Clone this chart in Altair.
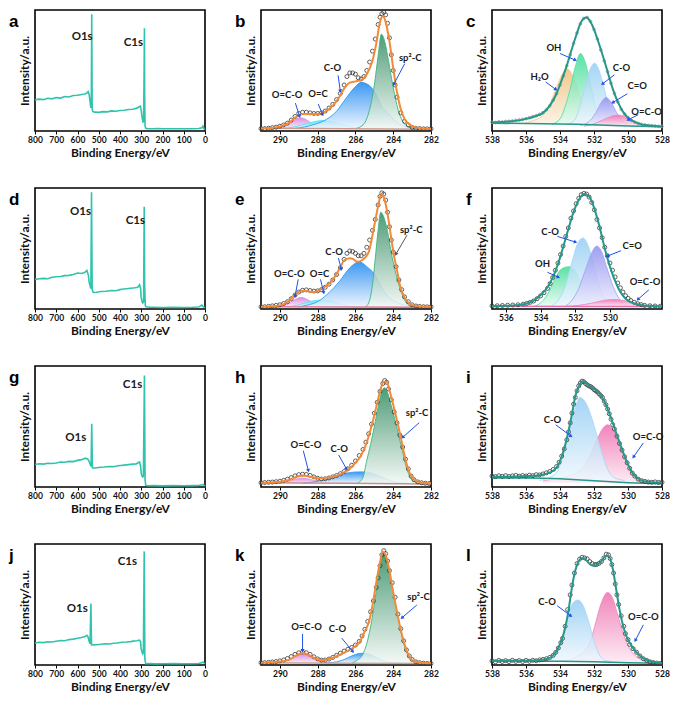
import math
import altair as alt
import pandas as pd

W, H = 170, 121
FONT = "Lato"

# ---------------- survey spectra: (binding energy eV, intensity in % of panel height)
SURVEY_A = [(800,25.7),(780,26.3),(760,25.9),(740,27.0),(720,26.6),(700,27.6),(680,27.2),(660,28.5),(640,28.1),(620,29.3),(600,29.5),(580,30.2),(565,30.6),(555,31.5),(550,32.5),(545,30),(540,23),(537,19),(535,22),(533,96.5),(531,18),(528,16.2),(520,15.6),(500,15.4),(480,16.0),(460,15.8),(440,16.6),(420,16.3),(400,16.9),(380,17.1),(360,17.8),(340,18.0),(320,18.9),(310,20.0),(304,20.5),(300,17),(296,11),(292,7.5),(289,8),(287,40),(285,85),(284,30),(282,4),(279,2.2),(270,2.0),(250,1.9),(220,2.0),(200,1.8),(150,1.9),(100,1.8),(60,1.9),(30,2.1),(15,2.6),(10,4.0),(6,2.0),(0,1.2)]
SURVEY_D = [(800,24.5),(780,25.0),(760,25.3),(740,25.0),(720,26.2),(700,26.6),(680,26.9),(660,27.6),(640,27.8),(620,28.5),(600,29.7),(580,29.4),(565,30.3),(556,31.8),(549,28),(545,22),(541,19.4),(537,17),(534,96.4),(531,16),(526,13.7),(510,13.9),(490,14.5),(466,14.7),(440,15.3),(420,15.1),(400,16.0),(391,16.3),(370,16.8),(350,17.2),(330,17.6),(316,18),(308,20),(303,17),(301,10),(296,6),(293,5),(289,6),(286,84.5),(284,20),(281,3),(278,1.8),(260,1.5),(240,1.4),(200,1.3),(150,1.4),(100,1.3),(60,1.4),(30,1.6),(15,3.2),(8,1.8),(0,1.0)]
SURVEY_G = [(800,18.6),(780,19.2),(760,18.9),(740,19.6),(720,19.4),(700,19.9),(680,20.6),(660,20.4),(640,21.2),(620,21.0),(600,22.0),(580,22.6),(563,23.8),(551,23),(545,21),(540,18.6),(536,17),(533,52.2),(530,16),(527,15.5),(510,15.9),(490,16.3),(473,16.5),(450,17.0),(430,16.8),(410,17.6),(398,17.8),(380,18.1),(360,18.5),(340,18.9),(323,19),(315,20),(308,20.7),(303,17),(300,11),(296,9),(293,8.3),(290,9),(285,92.2),(282,6),(279,1.5),(270,1.0),(240,1.1),(200,0.9),(150,1.1),(100,1.0),(60,1.1),(30,1.2),(10,2.0),(4,1.3),(0,0.8)]
SURVEY_J = [(800,18.2),(780,18.8),(760,18.5),(740,19.2),(720,19.0),(700,19.7),(680,20.3),(660,20.1),(640,21.0),(620,21.4),(600,22.1),(580,22.8),(565,23.6),(556,24.6),(550,23),(546,20),(541,17.5),(537,50.9),(534,16.5),(531,16.5),(510,16.8),(489,17.2),(470,17.6),(450,17.4),(430,18.0),(414,18.2),(390,18.8),(370,19.0),(350,19.3),(338,19.7),(320,20.1),(308,20.6),(303,19),(301,14),(297,11),(293,9.1),(290,10),(286,93.9),(283,5),(279,1.0),(260,1.1),(230,0.9),(200,1.0),(150,1.1),(100,1.0),(60,1.0),(30,1.2),(8,2.3),(3,1.3),(0,0.9)]
SURVEY_TICKS = [800, 700, 600, 500, 400, 300, 200, 100, 0]
LABELS_A = [("O1s", 578, 78), ("C1s", 337, 73)]
LABELS_D = [("O1s", 586, 80), ("C1s", 328, 73)]
LABELS_G = [("O1s", 608, 40.6), ("C1s", 341, 84.5)]
LABELS_J = [("O1s", 601, 46), ("C1s", 365, 85)]

# ---------------- C1s panels
C1S_TICKS = [290, 288, 286, 284, 282]
B_DATA = [(291.0,2),(290.8,2),(290.6,2.3),(290.4,2.8),(290.2,3.2),(290.0,4),(289.8,5),(289.6,6.5),(289.4,9),(289.2,12),(289.0,14.5),(288.8,15.5),(288.6,15.5),(288.4,15),(288.2,14.5),(288.0,14.5),(287.8,15),(287.6,16.5),(287.4,19),(287.2,22),(287.0,26),(286.8,31),(286.6,38),(286.45,45),(286.3,48),(286.15,48),(286.0,47),(285.85,44),(285.7,43),(285.55,45),(285.4,50),(285.25,57),(285.1,66),(284.95,76),(284.8,88),(284.7,94),(284.6,97),(284.5,98),(284.4,96),(284.3,89),(284.2,77),(284.1,63),(284.0,50),(283.9,38),(283.8,28),(283.6,15),(283.4,8),(283.2,5),(283.0,3),(282.8,2.2),(282.6,2),(282.4,1.8),(282.2,1.8),(282.0,1.8)]
B_FIT = [(291.0,2),(290.5,2.5),(290.0,3.8),(289.5,7),(289.1,12),(288.8,14),(288.4,14),(288.0,14),(287.6,16),(287.2,21),(286.9,27),(286.6,35),(286.3,40),(286.0,41),(285.7,42),(285.4,47),(285.1,58),(284.9,72),(284.7,90),(284.55,95),(284.4,90),(284.2,74),(284.0,52),(283.8,32),(283.6,18),(283.4,10),(283.1,5),(282.8,3),(282.4,2),(282.0,1.8)]
B_OCO = [(290.3,2),(290.0,2.8),(289.7,4.5),(289.4,7.2),(289.15,9.8),(288.9,10.9),(288.65,9.8),(288.4,7.2),(288.1,4.5),(287.8,2.8),(287.5,2)]
B_OC = [(289.8,2),(289.3,3.2),(288.8,5.2),(288.3,7.3),(287.9,8.5),(287.65,8.7),(287.3,8),(286.9,6.2),(286.5,4.2),(286.0,2.7),(285.5,2)]
B_CO = [(289.2,2.2),(288.7,3.3),(288.2,5.4),(287.7,8.2),(287.0,16.3),(286.5,27),(286.0,36.7),(285.7,40.2),(285.3,38),(284.9,30),(284.6,20),(284.2,13.6),(283.9,8.2),(283.4,4),(282.8,2.2),(282.4,2)]
B_SP2 = [(286.0,2),(285.6,5),(285.3,15),(285.0,38),(284.8,62),(284.63,80),(284.45,74),(284.25,58),(284.0,36),(283.75,18),(283.5,8),(283.2,3.5),(282.8,2)]
B_BASE = [(291.0,2.2),(286.5,1.9),(282.0,1.4)]
B_LABELS = [("O=C-O",289.62,30),("O=C",287.98,30.4),("C-O",287.22,52),("sp²-C",283.1,60)]
B_ARROWS = [(289.18,23,288.96,12.2),(287.97,22.3,287.74,13.6),(286.92,46,286.8,33),(283.39,55.7,283.97,38.6)]

E_DATA = [(291.0,1.8),(290.8,1.9),(290.6,2.2),(290.4,2.6),(290.2,3.0),(290.0,3.5),(289.8,4.5),(289.6,6),(289.4,8.5),(289.2,11.5),(289.0,14),(288.8,15.5),(288.6,15.8),(288.4,15.3),(288.2,14.8),(288.0,15),(287.8,16),(287.6,18),(287.4,20.5),(287.2,24),(287.0,28.5),(286.8,34),(286.6,41),(286.45,46),(286.3,48),(286.15,47.5),(286.0,46),(285.85,44),(285.7,44),(285.55,46),(285.4,51),(285.25,57),(285.1,65),(284.95,74),(284.8,86),(284.7,93),(284.6,96),(284.5,95),(284.4,90),(284.3,80),(284.2,68),(284.1,57),(284.0,47),(283.85,35),(283.7,24),(283.55,16),(283.4,10),(283.2,6),(283.0,3.5),(282.8,2.5),(282.6,2.1),(282.4,1.9),(282.2,1.8),(282.0,1.8)]
E_FIT = [(291.0,1.8),(290.5,2.2),(290.0,3),(289.5,7),(289.2,12),(288.7,15),(288.2,14),(287.7,17.4),(287.2,24),(286.85,33),(286.6,40),(286.3,42),(286.1,41),(285.9,39),(285.6,41),(285.3,47),(285.0,69),(284.8,85),(284.63,95),(284.45,90),(284.3,78.6),(284.1,58),(283.97,44.8),(283.8,32),(283.63,18.75),(283.45,11),(283.3,7),(283.1,4),(282.95,3),(282.5,2),(282.0,1.8)]
E_OCO = [(290.1,1.6),(289.7,3.5),(289.35,6.5),(288.86,9.6),(288.4,6.5),(288.05,3.5),(287.6,1.6)]
E_OC = [(289.6,1.6),(289.1,3),(288.6,5.5),(288.15,7),(287.76,7.5),(287.35,7),(286.95,5),(286.55,3),(286.1,1.8),(285.7,1.6)]
E_CO = [(289.0,1.8),(288.6,3),(287.9,7),(287.4,13.5),(286.85,22.7),(286.3,34),(285.8,39),(285.4,35),(285.0,29),(284.5,14.8),(284.0,7),(283.3,3),(282.7,1.8)]
E_SP2 = [(285.5,1.6),(285.3,5),(285.1,20),(284.95,42),(284.8,65),(284.66,80),(284.5,76),(284.3,64),(284.1,46),(283.9,32),(283.7,20),(283.5,11),(283.3,5),(283.0,2),(282.7,1.6)]
E_BASE = [(291.0,1.8),(286.5,1.7),(282.0,1.5)]
E_LABELS = [("O=C-O",289.5,29),("O=C",287.9,29),("C-O",287.13,46.9),("sp²-C",283.05,65.6)]
E_ARROWS = [(289.03,24.5,289.2,10.4),(287.85,24.5,287.68,13.5),(286.9,42,286.75,33)]
E_ARROWS_GREY = [(283.27,61,283.86,45.3)]

H_DATA = [(291.0,3.6),(290.8,3.7),(290.6,3.9),(290.4,4.1),(290.2,4.4),(290.0,4.8),(289.8,5.5),(289.6,6.5),(289.4,7.8),(289.2,9.2),(289.0,10.2),(288.8,10.6),(288.6,10.4),(288.4,9.6),(288.2,8.4),(288.0,7.2),(287.8,6.6),(287.6,6.8),(287.4,7.5),(287.2,8.4),(287.0,9.5),(286.8,11),(286.6,12.8),(286.4,15),(286.2,18),(286.0,21.5),(285.8,26),(285.6,31),(285.45,37),(285.3,44),(285.15,52),(285.0,61),(284.85,70),(284.7,79),(284.55,85.5),(284.45,88),(284.35,86.5),(284.25,81),(284.1,72),(283.95,62),(283.8,53),(283.65,43),(283.5,33),(283.35,23),(283.2,15),(283.05,9),(282.9,6),(282.7,4.2),(282.5,3.5),(282.3,3.1),(282.1,2.9)]
H_FIT = [(291.0,3.5),(290.5,3.8),(290.0,4.3),(289.5,6),(289.1,8.5),(288.8,9.5),(288.4,8.5),(288.0,7.3),(287.6,7.3),(287.2,8.5),(286.8,10.5),(286.4,14),(286.0,20),(285.7,26),(285.4,37),(285.1,53),(284.9,66),(284.7,79),(284.5,87),(284.35,87),(284.2,80),(284.0,68),(283.8,55),(283.6,41),(283.4,26),(283.2,14),(283.0,8),(282.8,5),(282.5,3.5),(282.0,3)]
H_OCO = [(290.2,3),(289.7,4.3),(289.2,6.3),(288.8,7.3),(288.4,6.3),(287.9,4.3),(287.4,3)]
H_CO = [(288.8,3),(288.3,4),(287.7,5.8),(287.1,8.5),(286.5,11.3),(286.0,12.4),(285.7,12.5),(285.3,12),(284.9,10),(284.5,7.5),(284.1,5),(283.7,3.6),(283.2,3)]
H_SP2 = [(285.9,3),(285.6,8),(285.4,22),(285.2,35),(285.0,50),(284.8,66),(284.6,79),(284.47,82),(284.3,78),(284.1,67),(283.9,55),(283.7,42),(283.5,29),(283.3,16),(283.1,8),(282.9,4.5),(282.6,3)]
H_BASE = [(291.0,3.5),(286.5,3.0),(282.0,2.5)]
H_LABELS = [("O=C-O",288.62,34.5),("C-O",286.86,31.7),("sp²-C",282.74,61)]
H_ARROWS = [(288.76,29.9,288.49,13.5),(286.89,26.5,286.47,14.8),(282.62,53.2,283.5,41)]

K_DATA = [(291.0,1.9),(290.8,2.0),(290.6,2.2),(290.4,2.5),(290.2,2.9),(290.0,3.4),(289.8,4.2),(289.6,5.4),(289.4,7),(289.2,8.8),(289.0,10.1),(288.8,10.7),(288.6,10.2),(288.4,8.8),(288.2,6.8),(288.0,5),(287.8,4),(287.6,4.1),(287.4,4.9),(287.2,6.3),(287.0,8),(286.8,9.8),(286.6,11.5),(286.4,13),(286.2,14.5),(286.0,16.5),(285.8,19.5),(285.65,24),(285.5,29.5),(285.35,36),(285.2,44),(285.05,53),(284.9,64),(284.8,72),(284.7,82),(284.6,91),(284.5,94.5),(284.4,92),(284.3,86),(284.2,78),(284.05,68),(283.9,56),(283.75,42),(283.6,30),(283.45,20),(283.3,12.5),(283.15,7.5),(283.0,4.6),(282.8,2.6),(282.6,1.9),(282.4,1.5),(282.2,1.3),(282.0,1.2)]
K_FIT = [(291.0,1.9),(290.5,2.2),(290.0,2.8),(289.5,4.5),(289.1,8.2),(288.8,10),(288.5,8.5),(288.1,5.2),(287.7,4),(287.3,5.5),(286.9,8),(286.5,11),(286.1,14.5),(285.8,18.5),(285.5,28),(285.3,35),(285.1,49),(284.9,68),(284.7,85),(284.56,93.5),(284.4,91),(284.2,78),(284.0,60),(283.8,44),(283.6,29),(283.4,17),(283.2,8.5),(283.0,4),(282.7,2.2),(282.3,1.6),(282.0,1.5)]
K_OCO = [(290.2,1.7),(289.8,2.8),(289.4,5),(289.1,7.5),(288.8,9),(288.5,7.5),(288.2,5),(287.8,2.8),(287.4,1.7)]
K_CO = [(287.5,1.7),(287.0,2.6),(286.6,4.5),(286.2,7.5),(285.8,9.5),(285.5,9.8),(285.2,8.5),(284.8,5.5),(284.4,3),(284.0,1.9),(283.6,1.7)]
K_SP2 = [(286.2,1.7),(285.9,4),(285.6,9),(285.3,24),(285.0,50),(284.8,72),(284.56,92),(284.35,88),(284.1,68),(283.9,52),(283.7,36),(283.5,21),(283.3,11),(283.1,5),(282.8,2.5),(282.5,1.7)]
K_BASE = [(291.0,1.8),(286.5,1.5),(282.0,1.2)]
K_LABELS = [("O=C-O",288.59,31),("C-O",286.95,29.7),("sp²-C",282.66,56.2)]
K_ARROWS = [(288.8,25.7,288.8,11.7),(286.73,22.3,286.14,11.1),(282.75,49.6,283.54,39)]

# ---------------- O1s panels
O1S_TICKS = [538, 536, 534, 532, 530, 528]
F_TICKS = [536, 534, 532, 530]
C_DATA = [(538.0,7.3),(537.8,7.0),(537.6,7.6),(537.4,7.4),(537.2,7.9),(537.0,8.0),(536.8,8.3),(536.6,8.7),(536.4,9.1),(536.2,9.6),(536.0,10.2),(535.8,11.0),(535.6,11.8),(535.4,12.6),(535.2,13.8),(535.0,15.2),(534.8,17.5),(534.6,20.8),(534.4,25.5),(534.2,31),(534.0,38),(533.8,45.5),(533.6,54),(533.4,63),(533.2,72.5),(533.0,81),(532.8,88.5),(532.6,93),(532.4,93.8),(532.2,90.5),(532.0,84),(531.8,76),(531.6,67),(531.4,58),(531.2,49),(531.0,39.5),(530.8,31),(530.6,24),(530.4,18),(530.2,14),(530.0,11),(529.8,8.8),(529.6,7.3),(529.4,6.2),(529.2,5.5),(529.0,5.0),(528.8,4.6),(528.6,4.4),(528.4,4.1),(528.2,3.9),(528.0,3.8)]
C_FIT = [(538,7.0),(537,7.8),(536,10),(535.5,12),(535,15),(534.6,21),(534.2,31),(533.9,42),(533.6,54),(533.3,68),(533.0,81),(532.8,89),(532.6,93),(532.45,93.8),(532.2,90),(532.0,84),(531.8,76),(531.5,63),(531.2,49),(530.9,35),(530.6,24),(530.3,16),(530.0,11),(529.6,7.5),(529.2,5.5),(528.8,4.6),(528.4,4.1),(528,3.8)]
C_H2O = [(536.2,6),(535.6,8.5),(535.0,13),(534.6,22),(534.2,36),(533.9,46),(533.6,51.4),(533.3,47),(533.0,36),(532.7,24),(532.4,14),(532.0,8),(531.6,6)]
C_OH = [(534.5,5.5),(534.0,10),(533.7,20),(533.4,35),(533.1,53),(532.8,64),(532.5,56),(532.2,38),(531.9,20),(531.6,9),(531.2,5.5)]
C_CO = [(533.6,5),(533.1,10),(532.8,22),(532.5,38),(532.2,52),(531.95,56),(531.7,50),(531.4,35),(531.1,20),(530.8,10),(530.4,5)]
C_CEO = [(532.8,4.5),(532.2,9),(531.9,15),(531.6,23),(531.3,27.6),(531.0,24),(530.7,16),(530.4,9),(529.9,4.5)]
C_OCO = [(532.6,4),(532.0,6),(531.5,9),(531.0,12),(530.6,13.2),(530.2,12),(529.8,9),(529.4,6),(528.9,4.3),(528.4,4)]
C_BASE = [(538,6.5),(533,5.5),(530,4.2),(528,3.5)]
C_LABELS = [("H₂O",535.2,45),("OH",534.36,68.6),("C-O",530.38,52.4),("C=O",529.46,37.6),("O=C-O",528.9,16)]
C_ARROWS = [(534.84,40.5,534.24,34.3),(534.0,64,533.1,58.6),(530.8,46.5,531.5,38.9),(530.04,30.8,530.9,23.5),(529.4,13.5,530.0,9.2)]

F_DATA = [(536.8,2.6),(536.5,2.7),(536.2,2.9),(535.9,3.1),(535.6,3.3),(535.3,3.5),(535.0,4.0),(534.8,4.6),(534.6,5.5),(534.4,6.6),(534.2,8.5),(534.0,10.8),(533.8,13.5),(533.6,17),(533.45,21),(533.3,26),(533.15,32),(533.0,38),(532.85,45),(532.7,52),(532.55,60),(532.4,67),(532.25,75),(532.1,81),(531.95,87),(531.8,91.5),(531.65,94.5),(531.5,95.5),(531.35,95),(531.2,92.5),(531.05,88),(530.9,82),(530.75,74),(530.6,67),(530.45,59),(530.3,51),(530.15,44),(530.0,38),(529.85,32),(529.7,26.5),(529.55,21.5),(529.4,17.5),(529.25,14),(529.1,11),(528.95,8.8),(528.8,7),(528.6,5.5),(528.4,4.4),(528.2,3.6),(528.0,3.0),(527.7,2.7),(527.4,2.5),(527.1,2.3)]
F_FIT = [(536.8,2.3),(536.0,2.6),(535.4,3.2),(534.8,4.5),(534.4,7),(534.0,11.5),(533.6,18),(533.3,26),(533.0,37),(532.7,51),(532.4,66),(532.1,80),(531.8,90),(531.5,95),(531.2,93),(530.9,83),(530.6,68),(530.3,50),(530.0,35),(529.7,23),(529.4,14),(529.1,8.5),(528.7,5),(528.2,3.2),(527.6,2.5),(527.0,2.2)]
F_OH = [(534.4,2.1),(534.0,5),(533.6,12),(533.2,24),(532.8,33),(532.35,35),(531.95,30),(531.6,19),(531.2,9),(530.8,4),(530.4,2.1)]
F_CO = [(533.4,2.1),(533.0,7),(532.6,18),(532.2,38),(531.9,53),(531.56,58.7),(531.25,52),(530.95,37),(530.6,18),(530.2,7),(529.8,2.1)]
F_CEO = [(532.6,2.1),(532.2,7),(531.8,17),(531.4,33),(531.0,48),(530.77,52),(530.5,48),(530.2,35),(529.8,18),(529.4,7),(529.0,2.1)]
F_OCO = [(532.6,2.1),(531.8,3),(531.0,5),(530.4,7),(529.8,7.9),(529.2,7),(528.6,5),(528.0,3),(527.4,2.1)]
F_BASE = [(536.8,2.2),(532,2.1),(527.0,2.0)]
F_LABELS = [("C-O",533.45,64),("OH",533.89,36.8),("C=O",528.72,52),("O=C-O",527.98,22.6)]
F_ARROWS = [(533.03,60,531.98,55.3),(533.6,30.3,532.97,26.3),(529.36,48.2,530.15,43.7),(527.76,15.8,528.39,7.9)]

I_DATA = [(538.0,9),(537.8,8.6),(537.6,9.3),(537.4,8.8),(537.2,9.4),(537.0,8.7),(536.8,9.2),(536.6,9.6),(536.4,8.9),(536.2,9.5),(536.0,9.1),(535.8,9.8),(535.6,9.4),(535.4,10.2),(535.2,10.0),(535.0,10.8),(534.8,11.7),(534.6,12.8),(534.4,14.5),(534.2,17),(534.05,20.5),(533.9,25.5),(533.75,31.5),(533.6,39),(533.5,45.5),(533.4,53),(533.3,61),(533.2,68.5),(533.1,74),(533.0,79.5),(532.9,83.5),(532.8,86),(532.7,87.5),(532.6,87),(532.5,85.5),(532.4,84.5),(532.3,83.5),(532.2,83),(532.1,82),(532.0,80.5),(531.9,79.5),(531.8,78.5),(531.7,77),(531.6,75.5),(531.5,74),(531.4,71),(531.3,68),(531.2,64.5),(531.1,60.5),(531.0,56),(530.9,51.5),(530.8,48),(530.65,42),(530.5,36),(530.35,30.5),(530.2,25),(530.05,20),(529.9,15.5),(529.75,11.5),(529.6,9),(529.4,6.5),(529.2,5.2),(529.0,4.6),(528.8,4.1),(528.6,3.9),(528.4,4.2),(528.2,3.8),(528.0,3.9)]
I_FIT = [(538,8.5),(537,8.5),(536,9),(535.2,9.8),(534.6,12),(534.2,16),(533.9,25),(533.6,40),(533.3,60),(533.1,75),(532.9,83),(532.7,87),(532.5,86),(532.2,83),(531.9,80),(531.6,76),(531.3,68),(531.0,57),(530.7,45),(530.4,33),(530.1,22),(529.8,13),(529.5,8),(529.1,5),(528.6,4),(528,3.8)]
I_CO = [(535.2,5.5),(534.6,8),(534.2,12),(533.9,22),(533.6,36),(533.3,55),(533.0,70),(532.85,74),(532.5,70),(532.2,60),(531.9,46),(531.6,31),(531.3,18),(531.0,10),(530.6,6.5),(530.2,5.5)]
I_OCO = [(535.0,5),(534.2,7),(533.5,9),(533.0,12),(532.6,17),(532.2,27),(531.8,40),(531.5,48),(531.2,51.4),(530.9,48),(530.6,40),(530.3,29),(530.0,18),(529.7,10),(529.4,5.5),(529.0,3.8),(528.5,3.5)]
I_BASE = [(538,7.5),(536,7.4),(535,7.2),(534,6.8),(533,6.0),(532,5.2),(531,4.4),(530,3.6),(529,3.0),(528,2.7)]
I_LABELS = [("C-O",534.44,55.3),("O=C-O",528.82,41)]
I_ARROWS = [(534.25,51.4,533.35,42),(529.1,36.4,529.68,24.7)]

L_DATA = [(538.0,3.4),(537.8,2.6),(537.6,3.8),(537.4,2.9),(537.2,3.6),(537.0,2.8),(536.8,3.9),(536.6,3.0),(536.4,3.7),(536.2,2.9),(536.0,3.8),(535.8,3.1),(535.6,3.9),(535.4,3.5),(535.2,4.2),(535.0,4.6),(534.8,5.2),(534.6,6.3),(534.4,8),(534.25,10.5),(534.1,14),(533.95,18.5),(533.85,22),(533.7,32),(533.55,45.8),(533.4,58),(533.3,66),(533.15,76),(533.0,83.8),(532.85,87.5),(532.7,89),(532.55,88.5),(532.4,87.7),(532.25,85.5),(532.1,83.8),(531.95,83),(531.85,83),(531.7,84),(531.56,85.6),(531.42,88.5),(531.28,91.6),(531.15,91),(531.05,88),(530.95,83),(530.85,76),(530.75,67),(530.65,58),(530.55,50),(530.4,40.6),(530.25,32),(530.15,26),(530.0,21),(529.9,17),(529.7,13.5),(529.5,10.5),(529.3,7.5),(529.1,5.2),(528.9,3.8),(528.7,2.6),(528.5,2.0),(528.3,1.6),(528.1,1.3)]
L_FIT = [(538,3.5),(536.5,3.5),(535.5,3.8),(534.8,5),(534.4,8),(534.1,14),(533.8,25),(533.5,45),(533.3,64),(533.1,78),(532.9,86),(532.7,88.5),(532.5,87),(532.2,83),(532.0,82),(531.8,83),(531.55,86),(531.3,90),(531.15,90),(530.9,80),(530.7,63),(530.5,46),(530.3,33),(530.1,24),(529.8,16),(529.5,10.5),(529.1,5.5),(528.6,2.8),(528,1.5)]
L_CO = [(534.8,3),(534.6,4),(534.2,10),(533.9,22),(533.6,38),(533.3,50),(532.95,53.7),(532.6,48),(532.3,35),(532.0,20),(531.7,9),(531.4,4),(531.0,3)]
L_OCO = [(534.0,2.8),(533.5,4),(533.0,7),(532.6,11),(532.2,20),(531.9,35),(531.6,50),(531.2,60),(530.9,55),(530.6,41),(530.3,27),(530.0,16),(529.6,8),(529.2,4.5),(528.8,2.5),(528.4,2.2)]
L_BASE = [(538,3.4),(536,3.3),(535,3.2),(534,3.1),(533,2.9),(532,2.6),(531,2.2),(530,1.9),(529,1.6),(528,1.3)]
L_LABELS = [("C-O",534.76,52.4),("O=C-O",529.1,40)]
L_ARROWS = [(534.17,49,533.36,40.6),(529.1,33.2,529.57,20.2)]

# ---------------- colours (top of gradient, bottom of gradient, edge)
SP2 = ("#2f8a5f", "#f2f8f4", "#39b57f")
CO_C = ("#1a86f0", "#eaf4ff", "#2b9cf5")
OC_C = ("#3fe3ea", "#e8fbfc", "#5de6ee")
OCO_C = ("#d67bdc", "#f8e9f8", "#dc8fe0")
H2O_O = ("#efbf78", "#fbf1e2", "#f3c98c")
OH_O = ("#3fdc96", "#e6fbf1", "#52e0a2")
CO_O = ("#94cdf3", "#eef7fd", "#a9d8f7")
CEO_O = ("#8f8ff0", "#eeeefd", "#a6a6f3")
OCO_O = ("#ee6fae", "#fde8f2", "#f088bf")
TEAL = "#2fc4ab"
ORANGE = "#f28a3a"
DTEAL = "#24998a"
ARROW = "#1f52e6"


def pts(p):
    return pd.DataFrame(p, columns=["E", "I"])


def xenc(dom, ticks, field="E"):
    return alt.X(f"{field}:Q",
                 scale=alt.Scale(domain=dom, reverse=True, nice=False, zero=False),
                 axis=alt.Axis(values=ticks, title="Binding Energy/eV", format="d"))


def yenc(field="I"):
    return alt.Y(f"{field}:Q", scale=alt.Scale(domain=[0, 100], nice=False, zero=False),
                 axis=alt.Axis(title="Intensity/a.u.", labels=False, ticks=False))


def grad(top, bottom):
    return alt.Gradient(gradient="linear",
                        stops=[alt.GradientStop(color=top, offset=0),
                               alt.GradientStop(color=bottom, offset=1)],
                        x1=0, x2=0, y1=0, y2=1)


def letter_layer(letter):
    return alt.Chart(pd.DataFrame({"t": [letter]})).mark_text(
        font="Liberation Sans", fontWeight="bold", fontSize=17, align="left",
        baseline="alphabetic", color="black").encode(x=alt.value(-26), y=alt.value(17), text="t:N")


def label_layer(labels, dom, ticks, size=9.5):
    d = pd.DataFrame(labels, columns=["t", "E", "I"])
    return alt.Chart(d).mark_text(font=FONT, fontWeight="bold", fontSize=size, color="#1a1a1a").encode(
        x=xenc(dom, ticks), y=yenc(), text="t:N")


def arrow_layers(arrows, dom, ticks, color):
    rows = []
    lo, hi = dom
    for e1, i1, e2, i2 in arrows:
        px1 = (hi - e1) / (hi - lo) * W
        px2 = (hi - e2) / (hi - lo) * W
        py1 = H - i1 / 100 * H
        py2 = H - i2 / 100 * H
        ang = math.degrees(math.atan2(px2 - px1, -(py2 - py1))) % 360
        rows.append({"E": e1, "I": i1, "E2": e2, "I2": i2, "ang": ang})
    d = pd.DataFrame(rows)
    rule = alt.Chart(d).mark_rule(color=color, strokeWidth=1).encode(
        x=xenc(dom, ticks), x2="E2:Q", y=yenc(), y2="I2:Q")
    head = alt.Chart(d).mark_point(shape="triangle-up", filled=True, size=16, color=color, opacity=1).encode(
        x=xenc(dom, ticks, "E2"), y=yenc("I2"), angle=alt.Angle("ang:Q", scale=None))
    return [rule, head]


def survey_panel(letter, data, labels):
    dom = [0, 800]
    line = alt.Chart(pts(data)).mark_line(color=TEAL, strokeWidth=1.6).encode(
        x=xenc(dom, SURVEY_TICKS), y=yenc())
    return alt.layer(line, label_layer(labels, dom, SURVEY_TICKS, 11.5), letter_layer(letter)).properties(
        width=W, height=H)


def fit_panel(letter, dom, ticks, data, fit, comps, base, labels, arrows, fit_color,
              base_color, circle_color="#3a3a3a", circle_size=16, extra_arrows=None):
    layers = []
    for p, b, col in comps:
        d = pts(p)
        d["B"] = b
        layers.append(alt.Chart(d).mark_area(interpolate="monotone", fill=grad(col[0], col[1]),
                                             opacity=0.85).encode(
            x=xenc(dom, ticks), y=yenc(), y2="B:Q"))
        layers.append(alt.Chart(pts(p)).mark_line(interpolate="monotone", color=col[2],
                                                  strokeWidth=0.9).encode(
            x=xenc(dom, ticks), y=yenc()))
    layers.append(alt.Chart(pts(base)).mark_line(color=base_color, strokeWidth=1.5).encode(
        x=xenc(dom, ticks), y=yenc()))
    layers.append(alt.Chart(pts(data)).mark_point(shape="circle", filled=False, color=circle_color,
                                                  size=circle_size, strokeWidth=0.8, opacity=1).encode(
        x=xenc(dom, ticks), y=yenc()))
    layers.append(alt.Chart(pts(fit)).mark_line(interpolate="monotone", color=fit_color,
                                                strokeWidth=2).encode(
        x=xenc(dom, ticks), y=yenc()))
    layers += arrow_layers(arrows, dom, ticks, ARROW)
    if extra_arrows:
        layers += arrow_layers(extra_arrows, dom, ticks, "#555555")
    layers.append(label_layer(labels, dom, ticks))
    layers.append(letter_layer(letter))
    return alt.layer(*layers).properties(width=W, height=H)


C1S_DOM = [282, 291]
pa = survey_panel("a", SURVEY_A, LABELS_A)
pd_ = survey_panel("d", SURVEY_D, LABELS_D)
pg = survey_panel("g", SURVEY_G, LABELS_G)
pj = survey_panel("j", SURVEY_J, LABELS_J)

pb = fit_panel("b", C1S_DOM, C1S_TICKS, B_DATA, B_FIT,
               [(B_OCO, 2, OCO_C), (B_OC, 2, OC_C), (B_CO, 2, CO_C), (B_SP2, 2, SP2)],
               B_BASE, B_LABELS, B_ARROWS, ORANGE, "#d09a8a")
pe = fit_panel("e", C1S_DOM, C1S_TICKS, E_DATA, E_FIT,
               [(E_OCO, 1.6, OCO_C), (E_OC, 1.6, OC_C), (E_CO, 1.6, CO_C), (E_SP2, 1.6, SP2)],
               E_BASE, E_LABELS, E_ARROWS, ORANGE, "#e07a9a", extra_arrows=E_ARROWS_GREY)
ph = fit_panel("h", C1S_DOM, C1S_TICKS, H_DATA, H_FIT,
               [(H_OCO, 3, OCO_C), (H_CO, 3, CO_C), (H_SP2, 3, SP2)],
               H_BASE, H_LABELS, H_ARROWS, ORANGE, "#c99088")
pk = fit_panel("k", C1S_DOM, C1S_TICKS, K_DATA, K_FIT,
               [(K_OCO, 1.7, OCO_C), (K_CO, 1.7, CO_C), (K_SP2, 1.7, SP2)],
               K_BASE, K_LABELS, K_ARROWS, ORANGE, "#c9a592")

pc = fit_panel("c", [528, 538], O1S_TICKS, C_DATA, C_FIT,
               [(C_H2O, 6, H2O_O), (C_OH, 5.5, OH_O), (C_CO, 5, CO_O), (C_CEO, 4.5, CEO_O), (C_OCO, 4, OCO_O)],
               C_BASE, C_LABELS, C_ARROWS, DTEAL, DTEAL, circle_color="#8a8a8a", circle_size=7)
pf = fit_panel("f", [527.0, 536.8], F_TICKS, F_DATA, F_FIT,
               [(F_OH, 2.1, OH_O), (F_CO, 2.1, CO_O), (F_CEO, 2.1, CEO_O), (F_OCO, 2.1, OCO_O)],
               F_BASE, F_LABELS, F_ARROWS, DTEAL, "#e870b0")
pi = fit_panel("i", [528, 538], O1S_TICKS, I_DATA, I_FIT,
               [(I_OCO, 3.5, OCO_O), (I_CO, 5.5, CO_O)],
               I_BASE, I_LABELS, I_ARROWS, DTEAL, DTEAL)
pl = fit_panel("l", [528, 538], O1S_TICKS, L_DATA, L_FIT,
               [(L_OCO, 2.2, OCO_O), (L_CO, 3, CO_O)],
               L_BASE, L_LABELS, L_ARROWS, DTEAL, DTEAL)

rows = [alt.hconcat(pa, pb, pc, spacing=25),
        alt.hconcat(pd_, pe, pf, spacing=25),
        alt.hconcat(pg, ph, pi, spacing=25),
        alt.hconcat(pj, pk, pl, spacing=25)]

chart = alt.vconcat(*rows, spacing=27).properties(
    padding={"left": 0, "top": 0, "right": 0, "bottom": 0}
).configure_view(stroke="black", strokeWidth=1.6).configure_axis(
    labelFont=FONT, titleFont=FONT, labelFontWeight="bold", titleFontWeight="bold",
    labelFontSize=8.5, titleFontSize=12, labelColor="#111111", titleColor="#111111",
    grid=False, domain=False, tickColor="black", tickSize=3, labelPadding=1, titlePadding=4,
    labelOverlap=False, labelFlush=False
).configure_axisY(titlePadding=4)

chart.save("out.html", embed_options={"renderer": "svg", "actions": False})
